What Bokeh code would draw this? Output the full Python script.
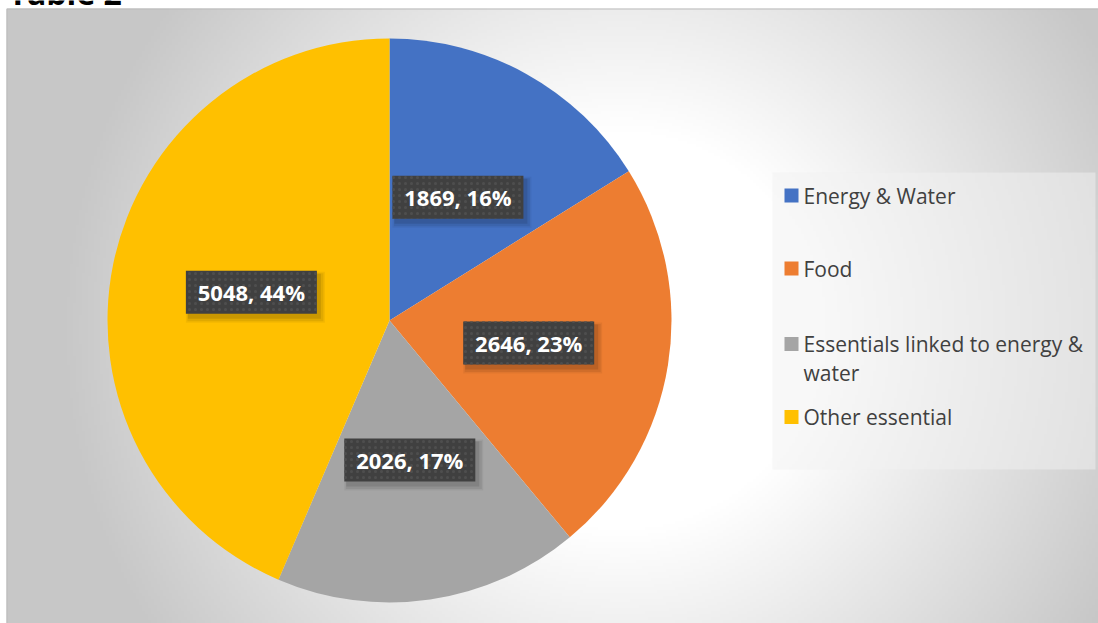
import textwrap
import numpy as np
from bokeh.plotting import figure
from bokeh.models import Range1d, ColumnDataSource
from bokeh.embed import file_html
from bokeh.resources import INLINE
from bokeh.core.properties import value

# ---- data ----
title = "Table 2"
categories = ["Energy & Water", "Food", "Essentials linked to energy & water", "Other essential"]
values = [1869, 2646, 2026, 5048]
colors = ["#4472C4", "#ED7D31", "#A5A5A5", "#FFC000"]

W, H = 1098, 623


def Y(py):
    return H - py


p = figure(width=W, height=H, x_range=Range1d(0, W), y_range=Range1d(0, H),
           output_backend="svg", toolbar_location=None, min_border=0,
           x_axis_location=None, y_axis_location=None)
p.grid.visible = False
p.outline_line_color = None
p.background_fill_color = "white"
p.border_fill_color = "white"

# ---- background radial gradient of the chart area ----
x0, y0p, x1, y1p = 6, 8, 1098, 623
step = 3
nx = (x1 - x0) // step
ny = (y1p - y0p) // step
xs = x0 + (np.arange(nx) + 0.5) * (x1 - x0) / nx
ys_pix = y1p - (np.arange(ny) + 0.5) * (y1p - y0p) / ny
XX, YY = np.meshgrid(xs, ys_pix)
r = np.hypot(XX - 620, YY - 330)
g = (255 - 56 * np.clip((r - 200) / 360, 0, 1)).astype(np.uint8)
img = np.empty((ny, nx), dtype=np.uint32)
view = img.view(dtype=np.uint8).reshape((ny, nx, 4))
view[..., 0] = g
view[..., 1] = g
view[..., 2] = g
view[..., 3] = 255
p.image_rgba(image=[img], x=x0, y=Y(y1p), dw=x1 - x0, dh=y1p - y0p)
p.quad(left=x0 + 0.5, right=W + 2, top=Y(y0p + 0.5), bottom=-2,
       fill_color=None, line_color="#bcbcbc", line_width=1)

# ---- title (cut off at the top, as in the source) ----
p.text(x=[8], y=[Y(13.5)], text=[title], text_baseline="bottom",
       text_align="left", text_color="black", text_font=value("Open Sans"),
       text_font_style="bold", text_font_size="32px")

# ---- pie ----
total = sum(values)
fr = np.array(values) / total
cum = np.concatenate([[0], np.cumsum(fr)])
start = np.pi / 2 - cum[:-1] * 2 * np.pi
end = np.pi / 2 - cum[1:] * 2 * np.pi
cx, cy, R = 389, Y(320), 282

src = ColumnDataSource(dict(start=start, end=end, color=colors))
p.wedge(x=cx, y=cy, radius=R, start_angle="start", end_angle="end",
        direction="clock", fill_color="color", line_color=None, source=src)

# ---- data labels ----
mid = (cum[:-1] + cum[1:]) / 2 * 2 * np.pi
lx = cx + 0.5 * R * np.sin(mid)
ly = cy + 0.5 * R * np.cos(mid)
texts = [f"{v}, {round(f * 100)}%" for v, f in zip(values, fr)]
lsrc = ColumnDataSource(dict(x=lx, y=ly, text=texts))

for dx, dy, grow, a in [(4, -5, 8, 0.05), (4, -5, 5, 0.07), (3, -4, 2, 0.10)]:
    p.rect(x=lx + dx, y=ly + dy, width=131 + grow, height=43 + grow,
           fill_color="black", fill_alpha=a, line_color=None)
p.rect(x="x", y="y", width=131, height=43, source=lsrc,
       fill_color="#404040", line_color=None,
       hatch_pattern="dot", hatch_color="#4e4e4e", hatch_scale=6, hatch_weight=1.5)
p.text(x="x", y="y", text="text", source=lsrc, text_align="center",
       text_baseline="middle", text_color="white", text_font=value("Open Sans"),
       text_font_style="bold", text_font_size="22px")

# ---- legend ----
p.quad(left=772, right=1095, top=Y(172), bottom=Y(469),
       fill_color="#f2f2f2", fill_alpha=0.5, line_color=None)
leg_y = [195, 268, 343.5, 416.5]
p.rect(x=[791] * len(categories), y=[Y(v) for v in leg_y], width=14, height=14,
       fill_color=colors, line_color=None)
tx, ty, tt = [], [], []
for name, yy in zip(categories, leg_y):
    for i, line in enumerate(textwrap.wrap(name, 29)):
        tx.append(803)
        ty.append(Y(yy + i * 29))
        tt.append(line)
p.text(x=tx, y=ty, text=tt, text_align="left", text_baseline="middle",
       text_color="#404040", text_font=value("Open Sans"), text_font_size="21px")

open("out.html", "w").write(file_html(p, INLINE))
